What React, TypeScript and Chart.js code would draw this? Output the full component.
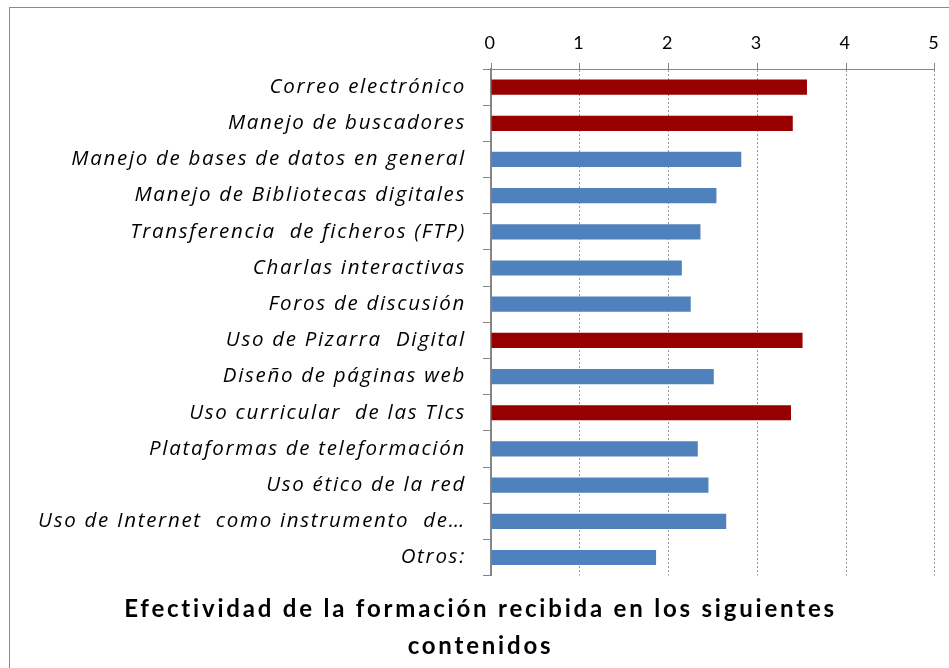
import React, { useEffect, useRef } from "react";
import { Chart, registerables } from "chart.js";

Chart.register(...registerables);

const categories: string[] = [
  "Correo electrónico",
  "Manejo de buscadores",
  "Manejo de bases de datos en general",
  "Manejo de Bibliotecas digitales",
  "Transferencia  de ficheros (FTP)",
  "Charlas interactivas",
  "Foros de discusión",
  "Uso de Pizarra  Digital",
  "Diseño de páginas web",
  "Uso curricular  de las TIcs",
  "Plataformas de teleformación",
  "Uso ético de la red",
  "Uso de Internet  como instrumento  de…",
  "Otros:",
];

const values: number[] = [3.56, 3.4, 2.82, 2.54, 2.36, 2.15, 2.25, 3.51, 2.51, 3.38, 2.33, 2.45, 2.65, 1.86];

const highlighted: boolean[] = [true, true, false, false, false, false, false, true, false, true, false, false, false, false];

const titleLines: string[] = ["Efectividad de la formación recibida en los siguientes", "contenidos"];

const xMin = 0;
const xMax = 5;

const RED = "#960000";
const BLUE = "#4F81BD";
const AXIS = "#868686";

const PAD_LEFT = 26;

const spacingPlugin = {
  id: "letterSpacing",
  beforeDraw(chart: any) {
    chart.ctx.letterSpacing = "2.8px";
  },
  afterDatasetsDraw(chart: any) {
    chart.ctx.letterSpacing = "1.7px";
  },
  afterDraw(chart: any) {
    chart.ctx.letterSpacing = "0px";
  },
};

export default function App() {
  const ref = useRef<HTMLCanvasElement | null>(null);

  useEffect(() => {
    if (!ref.current) return;
    const chart = new Chart(ref.current, {
      type: "bar",
      data: {
        labels: categories,
        datasets: [
          {
            data: values,
            backgroundColor: highlighted.map((h) => (h ? RED : BLUE)),
            barPercentage: 0.42,
            categoryPercentage: 1,
          },
        ],
      },
      plugins: [spacingPlugin],
      options: {
        indexAxis: "y",
        responsive: false,
        animation: false,
        layout: { padding: { left: PAD_LEFT, right: 14, top: 0, bottom: 0 } },
        plugins: {
          legend: { display: false },
          tooltip: { enabled: false },
          title: {
            display: true,
            position: "bottom",
            text: titleLines,
            color: "#000",
            font: { family: "Lato", size: 24, weight: "bold", lineHeight: 1.55 },
            padding: { top: 15, bottom: 3 },
          },
        },
        scales: {
          x: {
            position: "top",
            min: xMin,
            max: xMax,
            ticks: { stepSize: 1, color: "#000", font: { family: "Lato", size: 18 }, padding: 9 },
            grid: { color: "#9a9a9a", tickColor: AXIS, tickLength: 6, tickBorderDash: [] },
            border: { color: AXIS, width: 1, dash: [2, 2] },
            afterFit: (s: any) => {
              s.height = 69;
            },
          },
          y: {
            ticks: {
              color: "#000",
              font: { family: "Open Sans", size: 20.5, style: "italic" },
              padding: 17,
              autoSkip: false,
              z: 1,
            },
            grid: { drawOnChartArea: false, drawTicks: true, tickLength: 8, color: AXIS, offset: true },
            border: { color: AXIS, width: 2 },
            afterFit: (s: any) => {
              s.width = 491 - PAD_LEFT;
            },
          },
        },
      },
    });
    return () => chart.destroy();
  }, []);

  return (
    <div>
      <div
        style={{
          position: "fixed",
          left: 9,
          top: 7,
          width: 1000,
          height: 700,
          border: "1px solid #8a8a8a",
          boxSizing: "border-box",
        }}
      />
      <canvas
        ref={ref}
        width={949}
        height={668}
        style={{ position: "fixed", left: 0, top: 0, width: 949, height: 668 }}
      />
    </div>
  );
}
